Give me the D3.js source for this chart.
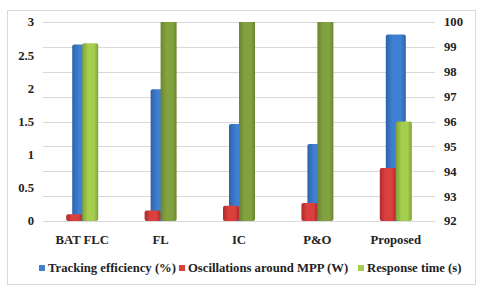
<!DOCTYPE html>
<html>
<head>
<meta charset="utf-8">
<script src="https://cdn.jsdelivr.net/npm/d3@7"></script>
<style>
  body { margin: 0; background: #fff; }
  svg text { font-family: "Liberation Serif", "Times New Roman", serif; font-weight: bold; font-size: 12.7px; fill: #222; }
</style>
</head>
<body>
<script>
var categories = ['BAT FLC', 'FL', 'IC', 'P&O', 'Proposed'];
var tracking = [99.1, 97.3, 95.9, 95.1, 99.5];      // right axis (%)
var oscillations = [0.1, 0.16, 0.23, 0.27, 0.8];     // left axis (W)
var response = [2.68, 4.5, 4.5, 4.5, 1.5];          // left axis (s), clipped above 3
var leftTicks = [0, 0.5, 1, 1.5, 2, 2.5, 3];
var rightTicks = [92, 93, 94, 95, 96, 97, 98, 99, 100];
var seriesNames = ['Tracking efficiency (%)', 'Oscillations around MPP (W)', 'Response time (s)'];

var width = 483, height = 291;
var svg = d3.select('body').append('svg').attr('width', width).attr('height', height);

var defs = svg.append('defs');
function hgrad(id, edge, mid) {
	var g = defs.append('linearGradient').attr('id', id).attr('x1', 0).attr('x2', 1).attr('y1', 0).attr('y2', 0);
	g.append('stop').attr('offset', '0%').attr('stop-color', edge);
	g.append('stop').attr('offset', '35%').attr('stop-color', mid);
	g.append('stop').attr('offset', '75%').attr('stop-color', mid);
	g.append('stop').attr('offset', '100%').attr('stop-color', edge);
}
hgrad('gBlue', '#2f63a8', '#3f80d2');
hgrad('gRed', '#b02a2a', '#d9403e');
hgrad('gGreen', '#7e9f37', '#a5cd4e');
hgrad('gOlive', '#6b8530', '#82a23f');

svg.append('rect').attr('x', 7.5).attr('y', 10.5).attr('width', 468).attr('height', 274)
	.attr('fill', 'none').attr('stroke', '#d9d9d9');

var plotTop = 22, plotBottom = 221, plotLeft = 43, plotRight = 435;
var x = d3.scaleBand().domain(categories).range([plotLeft, plotRight]);
var yL = d3.scaleLinear().domain([0, 3]).range([plotBottom, plotTop]);
var yR = d3.scaleLinear().domain([92, 100]).range([plotBottom, plotTop]);

// gridlines follow the right axis
svg.append('g').selectAll('line').data(rightTicks).enter().append('line')
	.attr('x1', plotLeft).attr('x2', plotRight)
	.attr('y1', function (d) { return Math.round(yR(d)) + 0.5; })
	.attr('y2', function (d) { return Math.round(yR(d)) + 0.5; })
	.attr('stroke', '#d9d9d9');

var clip = defs.append('clipPath').attr('id', 'plot');
clip.append('rect').attr('x', plotLeft).attr('y', plotTop).attr('width', plotRight - plotLeft).attr('height', plotBottom - plotTop + 1);

var bars = svg.append('g').attr('clip-path', 'url(#plot)');
var cx = function (d) { return x(d) + x.bandwidth() / 2; };

bars.selectAll('.blue').data(categories).enter().append('rect')
	.attr('x', function (d) { return cx(d) - 10; })
	.attr('width', 20)
	.attr('y', function (d, i) { return yR(tracking[i]); })
	.attr('height', function (d, i) { return plotBottom - yR(tracking[i]); })
	.attr('rx', 2)
	.attr('fill', 'url(#gBlue)');

bars.selectAll('.red').data(categories).enter().append('rect')
	.attr('x', function (d) { return cx(d) - 16; })
	.attr('width', 16)
	.attr('y', function (d, i) { return yL(oscillations[i]); })
	.attr('height', function (d, i) { return plotBottom - yL(oscillations[i]); })
	.attr('rx', 2)
	.attr('fill', 'url(#gRed)');

bars.selectAll('.green').data(categories).enter().append('rect')
	.attr('x', function (d) { return cx(d); })
	.attr('width', 16)
	.attr('y', function (d, i) { return yL(response[i]); })
	.attr('height', function (d, i) { return plotBottom - yL(response[i]); })
	.attr('rx', 2)
	.attr('fill', function (d, i) { return response[i] > 3 ? 'url(#gOlive)' : 'url(#gGreen)'; });

// axes labels
svg.append('g').selectAll('text').data(leftTicks).enter().append('text')
	.attr('x', 34).attr('y', function (d) { return yL(d); }).attr('dy', '0.35em')
	.attr('text-anchor', 'end')
	.text(function (d) { return d; });

svg.append('g').selectAll('text').data(rightTicks).enter().append('text')
	.attr('x', 444).attr('y', function (d) { return yR(d); }).attr('dy', '0.35em')
	.text(function (d) { return d; });

svg.append('g').selectAll('text').data(categories).enter().append('text')
	.attr('x', cx).attr('y', 244).attr('text-anchor', 'middle')
	.text(function (d) { return d; });

// legend
var legendColors = ['#3f80d2', '#d9403e', '#a5cd4e'];
var legendX = [39, 179, 358];
var lg = svg.append('g').selectAll('g').data(seriesNames).enter().append('g')
	.attr('transform', function (d, i) { return 'translate(' + legendX[i] + ',265)'; });
lg.append('rect').attr('width', 6).attr('height', 6)
	.attr('fill', function (d, i) { return legendColors[i]; });
lg.append('text').attr('x', 9).attr('y', 3).attr('dy', '0.35em')
	.text(function (d) { return d; });
</script>
</body>
</html>
